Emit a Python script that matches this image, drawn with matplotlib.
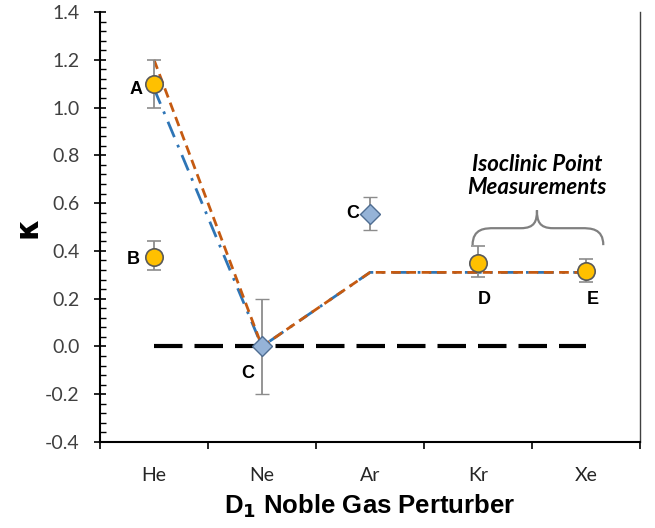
import numpy as np
import matplotlib
matplotlib.use('Agg')
import matplotlib.pyplot as plt
from matplotlib.path import Path
from matplotlib.patches import PathPatch

# categories on the x axis
gases = ['He', 'Ne', 'Ar', 'Kr', 'Xe']

# measured points (circles): A, B at He, D at Kr, E at Xe
circ_x = [0, 0, 3, 4]
circ_y = [1.10, 0.375, 0.35, 0.315]
circ_lo = [0.10, 0.055, 0.06, 0.045]
circ_hi = [0.10, 0.065, 0.07, 0.05]

# diamonds (C) at Ne and Ar
diam_x = [1, 2]
diam_y = [0.0, 0.556]
diam_err = [0.20, 0.07]

# model curves
brown_y = [1.20, 0.0, 0.31, 0.31, 0.31]
blue_y = [1.08, 0.0, 0.31, 0.31, 0.31]
zero_y = [0, 0, 0, 0, 0]

# point labels
lab_txt = ['A', 'B', 'C', 'C', 'D', 'E']
lab_x = [-0.17, -0.19, 0.87, 1.84, 3.06, 4.06]
lab_y = [1.077, 0.365, -0.114, 0.556, 0.195, 0.195]

x = np.arange(len(gases))

fig = plt.figure(figsize=(6.55, 5.28), dpi=100)
ax = fig.add_axes([100 / 655, 86 / 528, 540 / 655, 430 / 528])

ax.plot(x, zero_y, color='black', lw=3.0, ls=(0, (6.84, 2.88)), zorder=2)
ax.plot(x, blue_y, color='#2E75B6', lw=2.0, ls=(0, (6, 3, 1, 3)), zorder=3)
ax.plot(x, brown_y, color='#C55A11', lw=2.0, ls=(0, (3.5, 2)), zorder=4)

ax.errorbar(diam_x, diam_y, yerr=diam_err, fmt='D', color='#8c8c8c', ecolor='#8c8c8c',
            elinewidth=1.3, capsize=5, capthick=1.3, markersize=10,
            markerfacecolor='#95B3D7', markeredgecolor='#4F6D91', markeredgewidth=1.0, zorder=5)
ax.errorbar(circ_x, circ_y, yerr=[circ_lo, circ_hi], fmt='o', color='#8c8c8c', ecolor='#8c8c8c',
            elinewidth=1.3, capsize=5, capthick=1.3, markersize=12.5,
            markerfacecolor='#FFC000', markeredgecolor='#595959', markeredgewidth=1.2, zorder=6)

for t, lx, ly in zip(lab_txt, lab_x, lab_y):
    ax.text(lx, ly, t, ha='center', va='center', fontsize=13, fontweight='bold',
            family='Liberation Sans', zorder=7)

# curly brace over D and E
xl, xr, xm = 2.95, 4.16, 3.546
yb, yh, yt = 0.424, 0.495, 0.57
verts = [(xl, yb), (xl, yh), (xl + 0.12, yh), (xl + 0.2, yh),
         (xm - 0.15, yh), (xm - 0.15, yh),
         (xm - 0.02, yh), (xm, yh + 0.03), (xm, yt),
         (xm, yh + 0.03), (xm + 0.02, yh), (xm + 0.15, yh),
         (xr - 0.2, yh), (xr - 0.2, yh),
         (xr - 0.12, yh), (xr, yh), (xr, yb)]
codes = [Path.MOVETO, Path.CURVE4, Path.CURVE4, Path.CURVE4,
         Path.LINETO, Path.LINETO,
         Path.CURVE4, Path.CURVE4, Path.CURVE4,
         Path.CURVE4, Path.CURVE4, Path.CURVE4,
         Path.LINETO, Path.LINETO,
         Path.CURVE4, Path.CURVE4, Path.CURVE4]
ax.add_patch(PathPatch(Path(verts, codes), fill=False, edgecolor='#808080', lw=1.6, zorder=3))
ax.text(xm, 0.713, 'Isoclinic Point\nMeasurements', ha='center', va='center',
        fontsize=16, fontweight='bold', style='italic', family='Lato', linespacing=1.15)

ax.set_xlim(-0.5, 4.5)
ax.set_ylim(-0.4, 1.4)
ax.set_xticks(x)
ax.set_xticklabels(gases, family='Lato', fontsize=14, color='#262626')
ax.set_xticks(np.arange(-0.5, 4.6, 1), minor=True)
ax.tick_params(axis='x', which='major', length=0, pad=18)
ax.tick_params(axis='x', which='minor', length=5, width=1.2, direction='out')

ax.set_yticks(np.arange(-0.4, 1.41, 0.2))
ax.set_yticklabels(['%.1f' % v for v in np.arange(-0.4, 1.41, 0.2)], family='Lato',
                   fontsize=14, color='#404040')
ax.set_yticks(np.arange(-0.4, 1.41, 0.04), minor=True)
ax.tick_params(axis='y', which='major', length=9, width=1.2, direction='inout', pad=10)
ax.tick_params(axis='y', which='minor', length=4, width=1.0, direction='in')

ax.spines['top'].set_visible(False)
for s in ['left', 'bottom']:
    ax.spines[s].set_linewidth(1.5)
ax.spines['right'].set_linewidth(1.0)
ax.spines['right'].set_color('#404040')

ax.set_xlabel('D$_\\mathbf{1}$ Noble Gas Perturber', family='Liberation Sans', fontsize=18.5,
              fontweight='bold', labelpad=6)
ax.set_ylabel('κ', fontsize=22, fontweight='bold', labelpad=2)

fig.savefig('out.png', dpi=100)
